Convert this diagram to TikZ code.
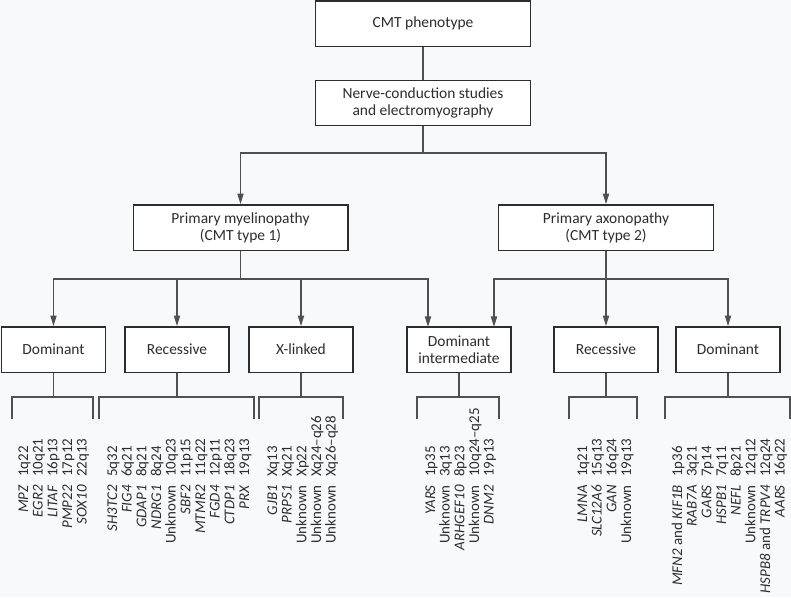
\documentclass[tikz,border=0pt]{standalone}
\usepackage{fontspec}
\setmainfont{Carlito}
\usetikzlibrary{arrows.meta}
\definecolor{ink}{RGB}{45,45,45}
\definecolor{linegray}{RGB}{80,80,80}
\definecolor{paper}{RGB}{248,249,251}
\newcommand{\listfont}{\fontsize{11.2}{11}\selectfont}

\begin{document}
\begin{tikzpicture}[x=0.75pt,y=-0.75pt,
    box/.style={draw=ink,fill=white,line width=1pt,text=ink,align=center,minimum height=34pt,font=\fontsize{11.6}{12.6}\selectfont},
    bigbox/.style={box,minimum width=161pt},
    smallbox/.style={box,minimum width=78pt},
    wire/.style={draw=linegray,line width=1.1pt},
    arr/.style={wire,-{Triangle[length=8pt,width=4.6pt]}},
    gene/.style={rotate=90,anchor=base east,inner sep=0pt,text=ink,font=\listfont},
    locus/.style={rotate=90,anchor=base west,inner sep=0pt,text=ink,font=\listfont}]
    \fill[paper] (0,0) rectangle (791,597);
    \useasboundingbox (0,0) rectangle (791,597);
    % top ====================================================
    \node[bigbox] (pheno) at (423,23.5) {CMT phenotype};
    \node[bigbox] (nerve) at (423,103)  {Nerve-conduction studies\\and electromyography};
    \node[bigbox] (myel)  at (240.5,227.5) {Primary myelinopathy\\(CMT type 1)};
    \node[bigbox] (axon)  at (606,227.5)   {Primary axonopathy\\(CMT type 2)};
    \coordinate (split)  at (423,153);
    \draw[wire] (pheno) -- (nerve);
    \draw[wire] (nerve) -- (split);
    \draw[arr] (split) -| (myel);
    \draw[arr] (split) -| (axon);
    % inheritance ============================================
    \node[smallbox] (dom1)   at (53.5,349.5) {Dominant};
    \node[smallbox] (rec1)   at (177,349.5)  {Recessive};
    \node[smallbox] (xlink)  at (301,349.5)  {X-linked};
    \node[smallbox] (domint) at (459,349.5)  {Dominant\\intermediate};
    \node[smallbox] (rec2)   at (606,349.5)  {Recessive};
    \node[smallbox] (dom2)   at (728,349.5)  {Dominant};
    \coordinate (split1) at (240.5,279);
    \coordinate (split2) at (606,279);
    \coordinate (diL) at (428,327); \coordinate (diR) at (494,327);
    \draw[wire] (myel) -- (split1);
    \draw[arr] (split1) -| (dom1);
    \draw[arr] (split1) -| (rec1);
    \draw[arr] (split1) -| (xlink);
    \draw[arr] (split1) -| (diL);
    \draw[arr] (axon) -- (rec2);
    \draw[arr] (split2) -| (diR);
    \draw[arr] (split2) -| (dom2);
    % brackets ===============================================
    \coordinate (brk) at (0,397);
    \foreach \bx in {dom1,rec1,xlink,domint,rec2,dom2} \draw[wire] (\bx) -- (\bx |- brk);
    \draw[wire] (12,419)  |- (93,397)  -- (93,419);
    \draw[wire] (99,419)  |- (254,397) -- (254,419);
    \draw[wire] (259,419) |- (343,397) -- (343,419);
    \draw[wire] (417,419) |- (499,397) -- (499,419);
    \draw[wire] (569,419) |- (637,397) -- (637,419);
    \draw[wire] (665,419) |- (790,397) -- (790,419);
    % genes and loci =========================================
    \foreach \gn/\lc [count=\k from 0] in {\textit{MPZ}/1q22,\textit{EGR2}/10q21,\textit{LITAF}/16p13,\textit{PMP22}/17p12,\textit{SOX10}/22q13}{
        \node[gene] (gdom1-\k) at (28+14.67*\k,485) {\gn}; \node[locus] (ldom1-\k) at (28+14.67*\k,477) {\lc};}
    \foreach \gn/\lc [count=\k from 0] in {\textit{SH3TC2}/5q32,\textit{FIG4}/6q21,\textit{GDAP1}/8q21,\textit{NDRG1}/8q24,Unknown/10q23,\textit{SBF2}/11p15,\textit{MTMR2}/11q22,\textit{FGD4}/12p11,\textit{CTDP1}/18q23,\textit{PRX}/19q13}{
        \node[gene] (grec1-\k) at (117+14.67*\k,485) {\gn}; \node[locus] (lrec1-\k) at (117+14.67*\k,477) {\lc};}
    \foreach \gn/\lc [count=\k from 0] in {\textit{GJB1}/Xq13,\textit{PRPS1}/Xq21,Unknown/Xp22,Unknown/Xq24--q26,Unknown/Xq26--q28}{
        \node[gene] (gx-\k) at (277+14.67*\k,485) {\gn}; \node[locus] (lx-\k) at (277+14.67*\k,477) {\lc};}
    \foreach \gn/\lc [count=\k from 0] in {\textit{YARS}/1p35,Unknown/3q13,\textit{ARHGEF10}/8p23,Unknown/10q24--q25,\textit{DNM2}/19p13}{
        \node[gene] (gdi-\k) at (435+14.67*\k,485) {\gn}; \node[locus] (ldi-\k) at (435+14.67*\k,477) {\lc};}
    \foreach \gn/\lc [count=\k from 0] in {\textit{LMNA}/1q21,\textit{SLC12A6}/15q13,\textit{GAN}/16q24,Unknown/19q13}{
        \node[gene] (grec2-\k) at (587+14.67*\k,485) {\gn}; \node[locus] (lrec2-\k) at (587+14.67*\k,477) {\lc};}
    \foreach \gn/\lc [count=\k from 0] in {\textit{MFN2} and \textit{KIF1B}/1p36,\textit{RAB7A}/3q21,\textit{GARS}/7p14,\textit{HSPB1}/7q11,\textit{NEFL}/8p21,Unknown/12q12,\textit{HSPB8} and \textit{TRPV4}/12q24,\textit{AARS}/16q22}{
        \node[gene] (gdom2-\k) at (682+14.67*\k,485) {\gn}; \node[locus] (ldom2-\k) at (682+14.67*\k,477) {\lc};}
\end{tikzpicture}
\end{document}
